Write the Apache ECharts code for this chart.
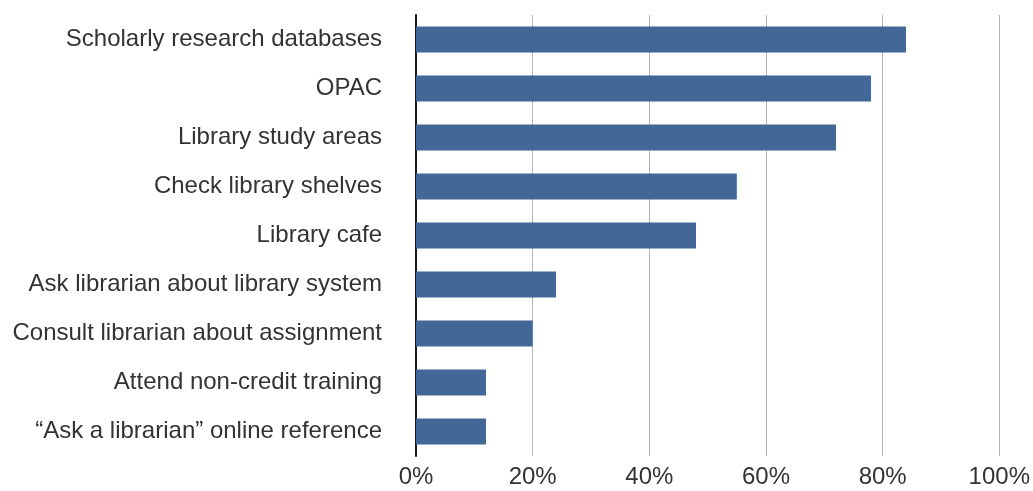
<!DOCTYPE html>
<html><head><meta charset="utf-8">
<script src="https://cdn.jsdelivr.net/npm/echarts@6/dist/echarts.min.js"></script>
<style>html,body{margin:0;padding:0;background:#fff}#c{width:1033px;height:491px}</style>
</head><body><div id="c"></div>
<script>
const categories = [
  "Scholarly research databases",
  "OPAC",
  "Library study areas",
  "Check library shelves",
  "Library cafe",
  "Ask librarian about library system",
  "Consult librarian about assignment",
  "Attend non-credit training",
  "\u201cAsk a librarian\u201d online reference"
];
const values = [84, 78, 72, 55, 48, 24, 20, 12, 12];
const xTicks = [0, 20, 40, 60, 80, 100];

const chart = echarts.init(document.getElementById('c'));
chart.setOption({
  animation: false,
  grid: {left: 416, right: 31, top: 15, bottom: 35, containLabel: false},
  xAxis: {
    type: 'value', min: 0, max: 100, interval: 20,
    axisLine: {show: false}, axisTick: {show: false},
    splitLine: {show: true, lineStyle: {color: '#b5b5b5', width: 1}},
    axisLabel: {formatter: v => xTicks.includes(v) ? v + '%' : '', color: '#333', fontSize: 24, fontFamily: 'Liberation Sans, Arial, sans-serif', margin: 9}
  },
  yAxis: {
    type: 'category', data: categories, inverse: true,
    axisLine: {show: true, onZero: false, lineStyle: {color: '#1a1a1a', width: 2}},
    axisTick: {show: false},
    axisLabel: {color: '#333', fontSize: 24, fontFamily: 'Liberation Sans, Arial, sans-serif', margin: 34}
  },
  series: [{
    type: 'bar', data: values, barCategoryGap: '47%',
    itemStyle: {color: '#436897'}
  }]
});
</script></body></html>
